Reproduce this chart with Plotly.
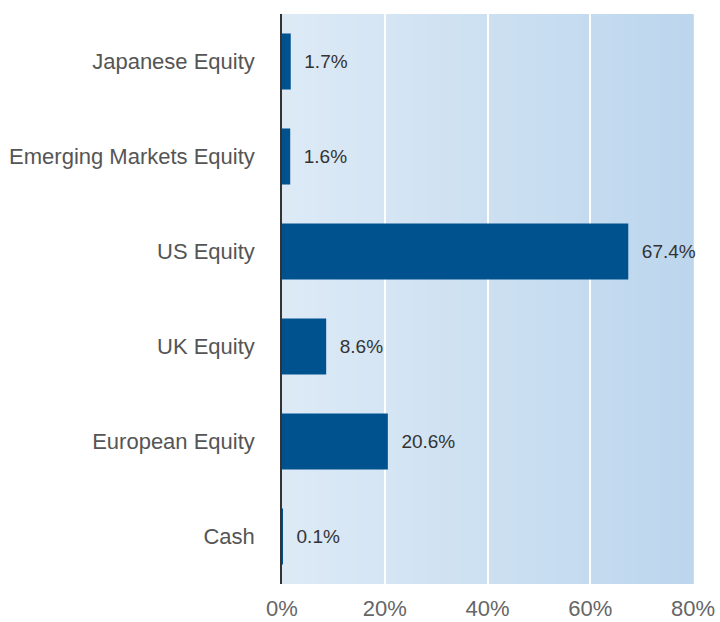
import plotly.graph_objects as go

categories = ["Japanese Equity", "Emerging Markets Equity", "US Equity", "UK Equity", "European Equity", "Cash"]
values = [1.7, 1.6, 67.4, 8.6, 20.6, 0.1]
labels = ["1.7%", "1.6%", "67.4%", "8.6%", "20.6%", "0.1%"]
tick_vals = [0, 20, 40, 60, 80]
tick_text = ["0%", "20%", "40%", "60%", "80%"]

fig = go.Figure()
fig.add_trace(go.Bar(
    y=categories, x=values, orientation="h",
    marker=dict(color="#00528f", line=dict(width=0)),
    text=["  " + t for t in labels], textposition="outside",
    textfont=dict(family="Liberation Sans, Arial", size=19, color="#333333"),
    cliponaxis=False, width=0.59,
))

# gradient background
c0 = (221, 234, 246)
c1 = (188, 214, 237)
n = 60
shapes = []
for i in range(n):
    t = i / (n - 1)
    col = tuple(round(c0[k] + (c1[k] - c0[k]) * t) for k in range(3))
    shapes.append(dict(type="rect", xref="x domain", yref="y domain",
                       x0=i / n, x1=(i + 1) / n + 0.002, y0=0, y1=1,
                       fillcolor="rgb(%d,%d,%d)" % col, line=dict(width=0), layer="below"))

fig.update_layout(
    width=720, height=622,
    margin=dict(l=282, r=27, t=14, b=38, autoexpand=False),
    paper_bgcolor="white", plot_bgcolor="rgba(0,0,0,0)",
    shapes=shapes, showlegend=False,
    font=dict(family="Liberation Sans, Arial"),
)
fig.update_xaxes(range=[0, 80], tickvals=tick_vals, ticktext=tick_text,
                 showgrid=True, gridcolor="white", gridwidth=1.5, zeroline=False,
                 tickfont=dict(size=22, color="#666666"), ticks="", fixedrange=True,
                 ticklabelstandoff=9, automargin=False)
fig.update_yaxes(categoryorder="array", categoryarray=categories[::-1],
                 showline=True, linecolor="#333333", linewidth=1.5,
                 tickfont=dict(size=22, color="#555555"), ticks="", ticklabelstandoff=21,
                 automargin=False, fixedrange=True)

fig.write_html("out.html", post_script="document.body.style.margin='0';",
               config={"displayModeBar": False})
